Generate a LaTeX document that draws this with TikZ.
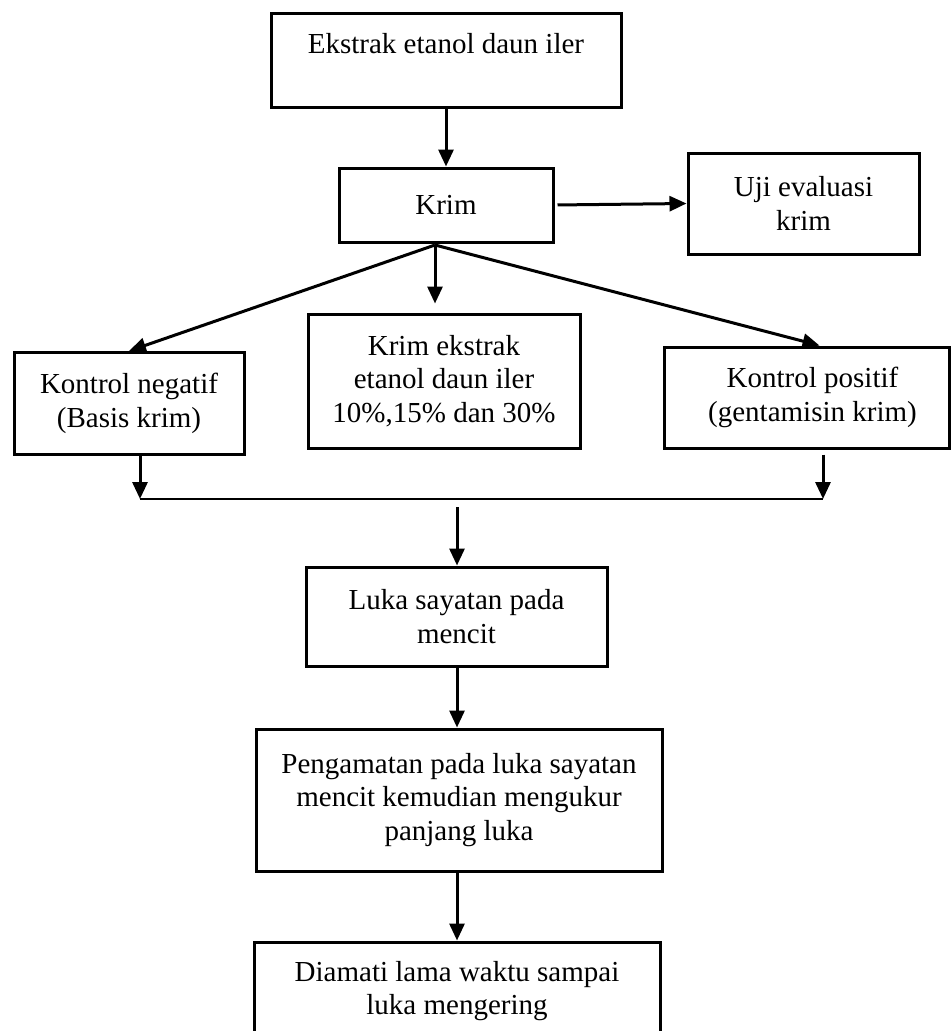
\documentclass[tikz,border=0pt]{standalone}
\usepackage{fontspec}
\setmainfont{Liberation Serif}
\usetikzlibrary{arrows.meta}
\tikzset{
  box/.style={draw, line width=3pt, align=center, inner sep=0pt,
    font=\fontsize{29}{33.5}\selectfont},
  arr/.style={line width=3pt, -{Triangle[length=17pt,width=15pt]}},
  thin/.style={line width=2pt}
}
\begin{document}
\begin{tikzpicture}[x=1pt,y=-1pt]
\clip (0,0) rectangle (952,1031);
\fill[white] (0,0) rectangle (952,1031);
\node[box, minimum width=350pt, minimum height=94pt] (ekstrak) at (446,60) {Ekstrak etanol daun iler\\ \mbox{}};
\node[box, minimum width=214pt, minimum height=74pt] (krim) at (446,205) {Krim};
\node[box, minimum width=231pt, minimum height=101pt] (uji) at (803.5,203.5) {Uji evaluasi\\krim};
\node[box, minimum width=230pt, minimum height=102pt] (neg) at (129,403.5) {Kontrol negatif\\(Basis krim)};
\node[box, minimum width=272pt, minimum height=134pt] (ekst) at (444,381) {Krim ekstrak\\etanol daun iler\\10\%,15\% dan 30\%};
\node[box, minimum width=285pt, minimum height=101pt] (pos) at (806.5,397.5) {\hspace*{12pt}Kontrol positif\\\hspace*{12pt}(gentamisin krim)};
\node[box, minimum width=301pt, minimum height=99pt] (luka) at (456.5,616.5) {Luka sayatan pada\\mencit};
\node[box, minimum width=406pt, minimum height=142pt] (peng) at (459,800) {Pengamatan pada luka sayatan\\mencit kemudian mengukur\\panjang luka};
\node[box, minimum width=406pt, minimum height=159pt] (diam) at (457,1021.5) {Diamati lama waktu sampai\\luka mengering\\ \mbox{}\\ \mbox{}};

\coordinate (fan) at (435,245);
\coordinate (jl) at (140,499);
\coordinate (jr) at (823,499);
\coordinate (jm) at (457,507);

\draw[arr] (ekstrak.south) -- (krim.north);
\draw[arr, shorten <=3pt] (krim.east) -- (uji.west);
\draw[arr] (fan) -- (neg.north);
\draw[arr, shorten >=9pt] (fan) -- (fan |- ekst.north);
\draw[arr] (fan) -- ([xshift=13pt]pos.north);
\draw[arr] (neg.south -| jl) -- (jl);
\draw[arr, shorten <=5pt] (pos.south -| jr) -- (jr);
\draw[thin] (jl) -- (jr);
\draw[arr] (jm) -- (jm |- luka.north);
\draw[arr] (jm |- luka.south) -- (jm |- peng.north);
\draw[arr] (jm |- peng.south) -- (jm |- diam.north);
\end{tikzpicture}
\end{document}
